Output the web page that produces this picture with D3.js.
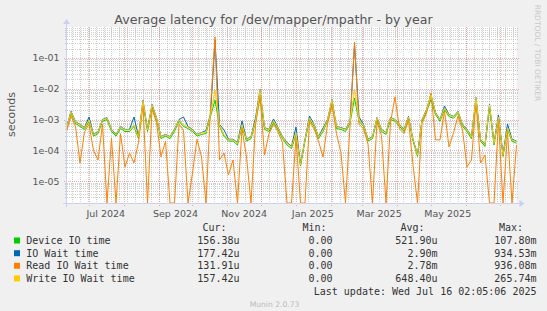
<!DOCTYPE html>
<html>
<head>
<meta charset="utf-8">
<script src="https://cdn.jsdelivr.net/npm/d3@7"></script>
<style>
  body { margin: 0; background: #f0f0f0; }
  svg { display: block; }
</style>
</head>
<body>
<div id="chart"></div>
<script>
// series names, colours and legend numbers
var names = ["Device IO time", "IO Wait time", "Read IO Wait time", "Write IO Wait time"];
var colors = ["#00cc00", "#0066b3", "#ff8000", "#ffcc00"];
var curVals = ["156.38u", "177.42u", "131.91u", "157.42u"];
var minVals = ["0.00", "0.00", "0.00", "0.00"];
var avgVals = ["521.90u", "2.90m", "2.78m", "648.40u"];
var maxVals = ["107.80m", "934.53m", "936.08m", "265.74m"];

// one sample every 4 days, 2024-06-11 .. 2025-07-16 (seconds)
var device = [4.8e-4,1.6e-3,7.5e-4,6.0e-4,4.8e-4,8.8e-4,2.9e-4,3.5e-4,8.8e-4,1.0e-3,
  4.1e-4,2.9e-4,5.1e-4,4.1e-4,4.1e-4,6.0e-4,2.4e-4,3.4e-3,4.1e-4,2.6e-3,
  1.0e-3,2.4e-4,2.9e-4,2.4e-4,4.1e-4,8.8e-4,6.0e-4,5.1e-4,4.1e-4,2.9e-4,
  3.3e-4,3.5e-4,1.25e-3,4.3e-3,6.0e-4,2.9e-4,2.0e-4,2.0e-4,1.5e-4,6.0e-4,
  2.0e-4,2.4e-4,8.0e-4,5.5e-3,4.8e-4,4.1e-4,8.0e-4,4.8e-4,2.4e-4,1.5e-4,
  1.15e-4,3.3e-4,3.1e-5,2.0e-4,1.0e-3,6.0e-4,2.4e-4,4.1e-4,8.8e-4,3.2e-3,
  5.1e-4,4.8e-4,4.1e-4,7.5e-4,5.0e-3,8.8e-4,6.0e-4,2.0e-4,2.4e-4,1.0e-3,
  4.1e-4,3.3e-4,1.0e-3,8.8e-4,6.0e-4,4.1e-4,1.1e-3,2.0e-4,6.4e-5,8.8e-4,
  1.8e-3,4.5e-3,1.45e-3,8.8e-4,2.1e-3,1.25e-3,1.1e-3,1.6e-3,6.0e-4,4.1e-4,
  2.4e-4,4.0e-3,2.0e-4,1.35e-4,2.4e-3,1.5e-4,1.1e-3,6.4e-5,4.8e-4,2.0e-4,1.7e-4];
var ioWait = [5.5e-4,1.85e-3,8.6e-4,6.9e-4,5.5e-4,1.21e-3,3.3e-4,4.0e-4,1.0e-3,1.16e-3,
  4.8e-4,3.3e-4,5.9e-4,4.8e-4,4.8e-4,1.21e-3,2.8e-4,4.2e-3,4.8e-4,3.1e-3,
  1.16e-3,2.8e-4,3.3e-4,2.8e-4,4.8e-4,1.0e-3,1.21e-3,5.9e-4,4.8e-4,3.3e-4,
  3.8e-4,4.4e-4,1.5e-3,0.379,7.0e-4,4.6e-4,2.3e-4,2.3e-4,1.8e-4,9.0e-4,
  2.3e-4,2.8e-4,1.12e-3,9.4e-3,5.5e-4,4.8e-4,1.04e-3,5.5e-4,2.8e-4,1.8e-4,
  1.35e-4,5.7e-4,3.6e-5,2.3e-4,1.3e-3,7.0e-4,2.8e-4,5.3e-4,1.0e-3,4.4e-3,
  5.9e-4,5.5e-4,4.8e-4,8.6e-4,0.261,1.21e-3,7.0e-4,2.3e-4,2.8e-4,1.16e-3,
  4.8e-4,3.8e-4,1.16e-3,1.0e-3,7.0e-4,4.8e-4,1.26e-3,2.3e-4,7.4e-5,1.0e-3,
  2.1e-3,6.4e-3,1.7e-3,1.0e-3,2.75e-3,1.46e-3,1.26e-3,1.83e-3,7.0e-4,4.8e-4,
  2.8e-4,5.2e-3,2.3e-4,1.55e-4,3.1e-3,1.8e-4,1.41e-3,7.4e-5,7.2e-4,2.3e-4,2.0e-4];
var readWait = [4.0e-4,1.3e-3,6.0e-4,3.9e-5,4.0e-4,7.0e-4,1.0e-4,4.9e-5,7.0e-4,0,
  2.5e-4,0,3.5e-4,2.9e-5,8.2e-5,3.9e-5,1.8e-4,3.0e-3,0,2.2e-3,
  8.0e-4,6.1e-5,2.0e-4,0,0,7.0e-4,4.5e-4,0,1.85e-5,2.3e-4,
  6.1e-5,0,2.37e-3,0.474,4.9e-5,8.2e-5,1.6e-5,4.9e-5,0,5.0e-4,
  6.1e-5,0,6.5e-4,5.8e-3,7.1e-5,3.5e-4,7.0e-4,4.0e-4,1.8e-4,0,
  0,2.6e-4,0,0,8.5e-4,5.0e-4,2.0e-4,6.1e-5,7.0e-4,3.0e-3,
  3.5e-4,8.2e-5,0,6.0e-4,0.326,7.0e-4,5.0e-4,1.6e-4,0,8.5e-4,
  3.0e-4,0,8.0e-4,5.38e-3,5.0e-4,3.5e-4,9.5e-4,3.4e-5,0,7.5e-4,
  1.6e-3,7.26e-3,2.2e-4,2.2e-4,1.9e-3,1.3e-4,3.7e-4,1.3e-3,4.6e-4,2.9e-5,
  4.9e-5,3.8e-3,3.9e-5,7.1e-5,0,0,9.0e-4,0,4.0e-4,0,1.5e-4];
var writeWait = [5.3e-4,1.76e-3,8.3e-4,6.7e-4,5.3e-4,9.7e-4,3.2e-4,3.9e-4,9.7e-4,1.12e-3,
  4.6e-4,3.2e-4,5.7e-4,4.6e-4,4.6e-4,6.7e-4,2.7e-4,4.0e-3,4.6e-4,2.96e-3,
  1.12e-3,2.7e-4,3.2e-4,2.7e-4,4.6e-4,9.7e-4,6.7e-4,5.7e-4,4.6e-4,3.2e-4,
  3.7e-4,3.9e-4,1.41e-3,9.1e-3,6.7e-4,3.2e-4,2.2e-4,2.2e-4,1.7e-4,6.7e-4,
  2.2e-4,2.7e-4,9.0e-4,9.1e-3,5.3e-4,4.6e-4,9.0e-4,5.3e-4,2.7e-4,1.7e-4,
  1.3e-4,3.7e-4,3.4e-5,2.2e-4,1.12e-3,6.7e-4,2.7e-4,4.6e-4,9.7e-4,4.3e-3,
  5.7e-4,5.3e-4,4.6e-4,8.3e-4,9.1e-3,9.7e-4,6.7e-4,2.2e-4,2.7e-4,1.12e-3,
  4.6e-4,3.7e-4,1.12e-3,9.7e-4,6.7e-4,4.6e-4,1.21e-3,2.2e-4,7.1e-5,9.7e-4,
  2.04e-3,6.25e-3,1.63e-3,9.7e-4,2.37e-3,1.41e-3,1.21e-3,1.76e-3,6.7e-4,4.6e-4,
  2.7e-4,5.0e-3,2.2e-4,1.5e-4,2.96e-3,1.7e-4,1.21e-3,7.1e-5,5.3e-4,2.2e-4,1.9e-4];

var yTicks = [1e-1, 1e-2, 1e-3, 1e-4, 1e-5];
var yTickLabels = ["1e-01", "1e-02", "1e-03", "1e-04", "1e-05"];
var xTickLabels = ["Jul 2024", "Sep 2024", "Nov 2024", "Jan 2025", "Mar 2025", "May 2025"];
var xTickMonths = [[2024, 6], [2024, 8], [2024, 10], [2025, 0], [2025, 2], [2025, 4]];

var W = 547, H = 311;
var plotL = 66.5, plotR = 516.5, plotT = 27, plotB = 203;
var tStart = Date.UTC(2024, 5, 11, 2, 5), tEnd = Date.UTC(2025, 6, 16, 2, 5);
var stepMs = 4 * 86400000;
var yMin = 1.97e-6, yMax = 1;

var svg = d3.select("#chart").append("svg")
  .attr("width", W).attr("height", H)
  .style("font-family", "'DejaVu Sans', sans-serif");

svg.append("rect").attr("width", W).attr("height", H).attr("fill", "#f0f0f0");

var x = d3.scaleUtc().domain([tStart, tEnd]).range([plotL, plotR]);
var y = d3.scaleLog().domain([yMin, yMax]).range([plotB, plotT]).clamp(true);

svg.append("rect")
  .attr("x", plotL).attr("y", plotT)
  .attr("width", plotR - plotL).attr("height", plotB - plotT)
  .attr("fill", "#ffffff");

// minor grid
var minorY = [];
for (var e = -6; e < 0; e++) {
  for (var k = 2; k <= 9; k++) {
    var v = k * Math.pow(10, e);
    if (v > yMin && v < yMax) minorY.push(v);
  }
}
var grid = svg.append("g").attr("shape-rendering", "crispEdges");
grid.selectAll(".hminor").data(minorY).enter().append("line")
  .attr("x1", plotL - 2).attr("x2", plotR + 2)
  .attr("y1", function(d) { return Math.round(y(d)) + 0.5; })
  .attr("y2", function(d) { return Math.round(y(d)) + 0.5; })
  .attr("stroke", "rgba(160,160,160,0.5)").attr("stroke-dasharray", "1,1");

var weeks = d3.utcSunday.range(new Date(tStart), new Date(tEnd));
grid.selectAll(".vminor").data(weeks).enter().append("line")
  .attr("x1", function(d) { return Math.round(x(d)) + 0.5; })
  .attr("x2", function(d) { return Math.round(x(d)) + 0.5; })
  .attr("y1", plotT).attr("y2", plotB + 2)
  .attr("stroke", "rgba(160,160,160,0.5)").attr("stroke-dasharray", "1,1");

// major grid
grid.selectAll(".hmajor").data(yTicks).enter().append("line")
  .attr("x1", plotL - 3).attr("x2", plotR + 2)
  .attr("y1", function(d) { return Math.round(y(d)) + 0.5; })
  .attr("y2", function(d) { return Math.round(y(d)) + 0.5; })
  .attr("stroke", "rgba(220,110,110,0.55)").attr("stroke-dasharray", "1,1");

var months = d3.utcMonth.range(new Date(tStart), new Date(tEnd));
grid.selectAll(".vmajor").data(months).enter().append("line")
  .attr("x1", function(d) { return Math.round(x(d)) + 0.5; })
  .attr("x2", function(d) { return Math.round(x(d)) + 0.5; })
  .attr("y1", plotT).attr("y2", plotB + 3)
  .attr("stroke", "rgba(220,110,110,0.55)").attr("stroke-dasharray", "1,1");

// lines, drawn in munin order
var series = [device, ioWait, readWait, writeWait];
var line = d3.line()
  .x(function(d, i) { return x(tStart + i * stepMs); })
  .y(function(d) { return y(Math.max(d, yMin)); });

svg.append("g").selectAll("path").data(series).enter().append("path")
  .attr("d", line)
  .attr("fill", "none")
  .attr("stroke", function(d, i) { return colors[i]; })
  .attr("stroke-width", 1);

// axes with arrows
var axisColor = "#c8d0f4";
svg.append("line").attr("x1", plotL - 4).attr("x2", plotR + 4)
  .attr("y1", plotB + 0.5).attr("y2", plotB + 0.5)
  .attr("stroke", axisColor).attr("shape-rendering", "crispEdges");
svg.append("path")
  .attr("d", "M" + (plotR + 3) + "," + (plotB - 3) + "L" + (plotR + 8) + "," + (plotB + 0.5) + "L" + (plotR + 3) + "," + (plotB + 4) + "Z")
  .attr("fill", axisColor);
svg.append("line").attr("x1", plotL).attr("x2", plotL)
  .attr("y1", plotB + 4).attr("y2", plotT - 4)
  .attr("stroke", axisColor).attr("shape-rendering", "crispEdges");
svg.append("path")
  .attr("d", "M" + (plotL - 3.5) + "," + (plotT - 3) + "L" + plotL + "," + (plotT - 8) + "L" + (plotL + 3.5) + "," + (plotT - 3) + "Z")
  .attr("fill", axisColor);

// tick labels
svg.selectAll(".ylab").data(yTicks).enter().append("text")
  .attr("x", 59.5)
  .attr("y", function(d) { return y(d) + 3.5; })
  .attr("text-anchor", "end")
  .attr("font-size", "9.4px").attr("fill", "#555")
  .text(function(d, i) { return yTickLabels[i]; });

svg.selectAll(".xlab").data(xTickMonths).enter().append("text")
  .attr("x", function(d) { return x(Date.UTC(d[0], d[1], 16)); })
  .attr("y", 216.5)
  .attr("text-anchor", "middle")
  .attr("font-size", "9.5px").attr("fill", "#555")
  .text(function(d, i) { return xTickLabels[i]; });

// title and side texts
svg.append("text").attr("x", 273.5).attr("y", 24)
  .attr("text-anchor", "middle").attr("font-size", "12.6px").attr("fill", "#555")
  .text("Average latency for /dev/mapper/mpathr - by year");

svg.append("text")
  .attr("transform", "translate(14.5,114.5) rotate(-90)")
  .attr("text-anchor", "middle").attr("font-size", "11px").attr("fill", "#555")
  .text("seconds");

svg.append("text")
  .attr("transform", "translate(534.5,4.7) rotate(90)")
  .attr("font-size", "7.5px").attr("fill", "#c8c8c8")
  .text("RRDTOOL / TOBI OETIKER");

// legend
var legend = svg.append("g")
  .style("font-family", "'DejaVu Sans Mono', monospace")
  .attr("font-size", "10px").attr("fill", "#333");

var colRight = [239.5, 332.5, 437.5, 536.5];
var headRight = [226.5, 326.5, 424.5, 523];
var headers = ["Cur:", "Min:", "Avg:", "Max:"];
legend.selectAll(".head").data(headers).enter().append("text")
  .attr("x", function(d, i) { return headRight[i]; })
  .attr("y", 231.4).attr("text-anchor", "end")
  .text(function(d) { return d; });

var rowY = [244, 256.7, 269.3, 281.9];
names.forEach(function(n, i) {
  legend.append("rect")
    .attr("x", 14).attr("y", rowY[i] - 6.5)
    .attr("width", 6).attr("height", 6)
    .attr("fill", colors[i]);
  legend.append("text").attr("x", 26.3).attr("y", rowY[i]).text(n);
  [curVals, minVals, avgVals, maxVals].forEach(function(col, j) {
    legend.append("text")
      .attr("x", colRight[j]).attr("y", rowY[i])
      .attr("text-anchor", "end").text(col[i]);
  });
});

legend.append("text").attr("x", 536.5).attr("y", 294.6)
  .attr("text-anchor", "end")
  .text("Last update: Wed Jul 16 02:05:06 2025");

svg.append("text").attr("x", 274.5).attr("y", 307)
  .attr("text-anchor", "middle").attr("font-size", "7.6px").attr("fill", "#bbb")
  .text("Munin 2.0.73");
</script>
</body>
</html>
